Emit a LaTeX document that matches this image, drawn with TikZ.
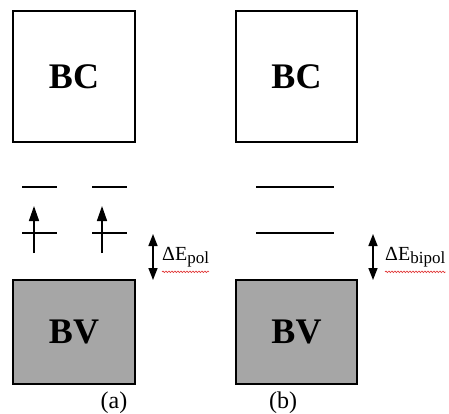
\documentclass[tikz,border=0pt]{standalone}
\usepackage{fontspec}
\setmainfont{Liberation Serif}
\usetikzlibrary{arrows.meta,decorations.pathmorphing}
\definecolor{bvgray}{HTML}{A6A6A6}
\definecolor{squig}{HTML}{E03030}
\tikzset{
  band/.style={draw=black, line width=1.6pt, inner sep=0pt, font=\fontsize{36}{40}\selectfont\bfseries},
  level/.style={line width=1.6pt},
  spinarrow/.style={line width=1.5pt, -{Triangle[length=15pt,width=10pt]}},
  gaparrow/.style={line width=1.5pt, {Triangle[length=12pt,width=9pt]}-{Triangle[length=12pt,width=9pt]}},
  gaplabel/.style={anchor=base west, inner sep=0pt, font=\fontsize{20}{24}\selectfont},
  sublabel/.style={anchor=base, inner sep=0pt, font=\fontsize{24}{28}\selectfont},
  squiggle/.style={draw=squig, line width=0.6pt, decorate, decoration={snake, amplitude=0.8pt, segment length=3pt}}
}
\begin{document}
\begin{tikzpicture}[x=1pt,y=-1pt]
\useasboundingbox (0,0) rectangle (449,414);
% conduction bands
\node[band, minimum width=122pt, minimum height=131pt] (BCa) at (74,76.5) {BC};
\node[band, minimum width=121pt, minimum height=131pt] (BCb) at (296.5,76.5) {BC};
% valence bands
\node[band, fill=bvgray, minimum width=122pt, minimum height=104pt] (BVa) at (74,332) {BV};
\node[band, fill=bvgray, minimum width=121pt, minimum height=104pt] (BVb) at (296.5,332) {BV};
% (a) levels
\coordinate (a1l) at (22,187); \coordinate (a1r) at (57,187);
\coordinate (a2l) at (92,187); \coordinate (a2r) at (127,187);
\coordinate (a3l) at (22,233); \coordinate (a3r) at (57,233);
\coordinate (a4l) at (92,233); \coordinate (a4r) at (127,233);
\draw[level] (a1l) -- (a1r);
\draw[level] (a2l) -- (a2r);
\draw[level] (a3l) -- (a3r);
\draw[level] (a4l) -- (a4r);
\coordinate (s1b) at (34,253); \coordinate (s1t) at (34,206);
\coordinate (s2b) at (102,253); \coordinate (s2t) at (102,206);
\draw[spinarrow] (s1b) -- (s1t);
\draw[spinarrow] (s2b) -- (s2t);
% (b) levels
\coordinate (b1l) at (256,187); \coordinate (b1r) at (334,187);
\coordinate (b2l) at (256,233); \coordinate (b2r) at (334,233);
\draw[level] (b1l) -- (b1r);
\draw[level] (b2l) -- (b2r);
% gap arrows
\coordinate (ga1) at (153,234); \coordinate (ga2) at (153,280);
\coordinate (gb1) at (373,234); \coordinate (gb2) at (373,280);
\draw[gaparrow] (ga1) -- (ga2);
\draw[gaparrow] (gb1) -- (gb2);
% labels
\node[gaplabel] (Ea) at (162,260) {ΔE\raisebox{-3pt}{\fontsize{17}{20}\selectfont pol}};
\node[gaplabel] (Eb) at (385,260) {ΔE\raisebox{-3pt}{\fontsize{17}{20}\selectfont bipol}};
\draw[squiggle] ([yshift=-5pt]Ea.south west) -- ([yshift=-5pt]Ea.south east);
\draw[squiggle] ([yshift=-5pt]Eb.south west) -- ([yshift=-5pt]Eb.south east);
\node[sublabel] (la) at (114,408) {(a)};
\node[sublabel] (lb) at (283,408) {(b)};
\end{tikzpicture}
\end{document}
